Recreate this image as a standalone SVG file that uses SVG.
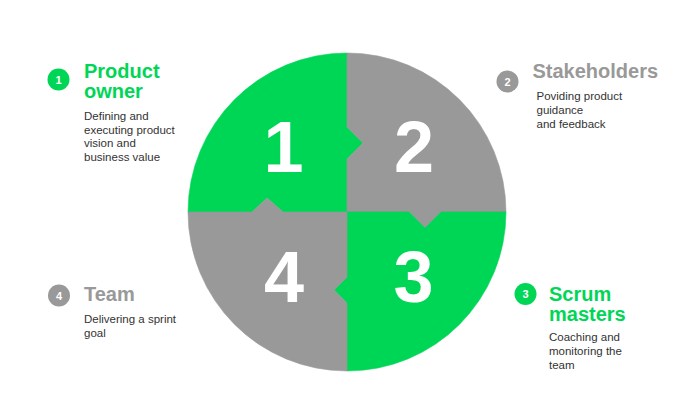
<svg xmlns="http://www.w3.org/2000/svg" width="700" height="410" viewBox="0 0 700 410">
  <style>
    .g { fill: #00d656; stroke: #00d656; stroke-width: 0.6; }
    .s { fill: #999999; stroke: #999999; stroke-width: 0.6; }
    .big { font-family: "Liberation Sans", Arial, sans-serif; font-weight: bold; font-size: 72px; fill: #ffffff; text-anchor: middle; }
    .badge { font-family: "Liberation Sans", Arial, sans-serif; font-weight: bold; font-size: 11px; fill: #ffffff; text-anchor: middle; }
    .title { font-family: "Liberation Sans", Arial, sans-serif; font-weight: bold; font-size: 20px; }
    .tg { fill: #00d656; }
    .ts { fill: #999999; }
    .desc { font-family: "Liberation Sans", Arial, sans-serif; font-size: 11.5px; fill: #333333; }
  </style>
  <rect width="700" height="410" fill="#ffffff"/>

  <g id="quadrant-1">
    <path class="g" d="M347,53 L347,127 L363,143 L347,159 L347,212 L283,212 L267,198 L252,212 L188,212 A159,159 0 0 1 347,53 Z"/>
    <text class="big" x="283.5" y="172">1</text>
  </g>
  <g id="quadrant-2">
    <path class="s" d="M347,53 A159,159 0 0 1 506,212 L441,212 L425,228 L409,212 L347,212 L347,159 L363,143 L347,127 Z"/>
    <text class="big" x="414" y="172">2</text>
  </g>
  <g id="quadrant-3">
    <path class="g" d="M506,212 A159,159 0 0 1 347,371 L347,303 L334,290 L347,277 L347,212 L409,212 L425,228 L441,212 Z"/>
    <text class="big" x="413.5" y="302">3</text>
  </g>
  <g id="quadrant-4">
    <path class="s" d="M347,371 A159,159 0 0 1 188,212 L252,212 L267,198 L283,212 L347,212 L347,277 L334,290 L347,303 Z"/>
    <text class="big" x="284" y="302">4</text>
  </g>

  <g id="label-product-owner">
    <circle cx="58.5" cy="79.5" r="11" fill="#00d656"/>
    <text class="badge" x="58.5" y="83.5">1</text>
    <text class="title tg" x="84" y="77.5">Product</text>
    <text class="title tg" x="84" y="97.5">owner</text>
    <text class="desc" x="84" y="120">Defining and</text>
    <text class="desc" x="84" y="133.5">executing product</text>
    <text class="desc" x="84" y="147">vision and</text>
    <text class="desc" x="84" y="160.5">business value</text>
  </g>

  <g id="label-stakeholders">
    <circle cx="507.5" cy="81.5" r="11" fill="#999999"/>
    <text class="badge" x="507.5" y="85.5">2</text>
    <text class="title ts" x="532.5" y="77.7">Stakeholders</text>
    <text class="desc" x="536.5" y="100">Poviding product</text>
    <text class="desc" x="536.5" y="114">guidance</text>
    <text class="desc" x="536.5" y="128">and feedback</text>
  </g>

  <g id="label-team">
    <circle cx="59" cy="295.5" r="11" fill="#999999"/>
    <text class="badge" x="59" y="299.5">4</text>
    <text class="title ts" x="84" y="301">Team</text>
    <text class="desc" x="84" y="322.5">Delivering a sprint</text>
    <text class="desc" x="84" y="336.5">goal</text>
  </g>

  <g id="label-scrum-masters">
    <circle cx="525.5" cy="294" r="11" fill="#00d656"/>
    <text class="badge" x="525.5" y="298">3</text>
    <text class="title tg" x="549" y="301">Scrum</text>
    <text class="title tg" x="549" y="321">masters</text>
    <text class="desc" x="549" y="341">Coaching and</text>
    <text class="desc" x="549" y="355">monitoring the</text>
    <text class="desc" x="549" y="369">team</text>
  </g>

  <g id="connectors"></g>
</svg>
